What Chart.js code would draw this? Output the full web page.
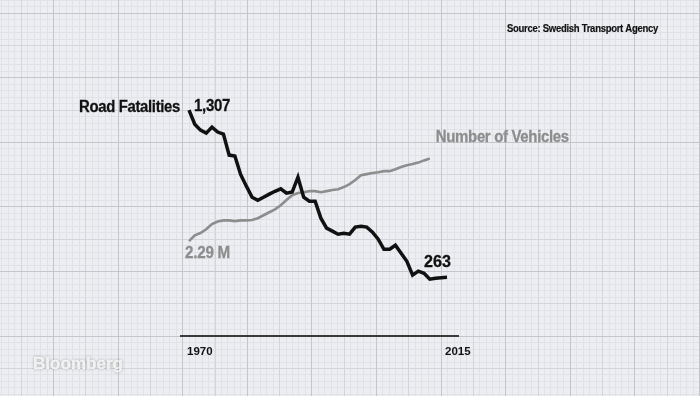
<!DOCTYPE html>
<html lang="en">
<head>
<meta charset="UTF-8">
<title>Road Fatalities vs Number of Vehicles</title>
<script src="https://cdn.jsdelivr.net/npm/chart.js"></script>
<style>
  html, body { margin: 0; padding: 0; background: #eceef2; }
  #wrap { width: 700px; height: 396px; }
</style>
</head>
<body>
<div id="wrap"><canvas id="chart" width="700" height="396"></canvas></div>
<script>
// Sweden, road deaths per year and vehicles in traffic (millions)
const years = [1970, 1971, 1972, 1973, 1974, 1975, 1976, 1977, 1978, 1979,
               1980, 1981, 1982, 1983, 1984, 1985, 1986, 1987, 1988, 1989,
               1990, 1991, 1992, 1993, 1994, 1995, 1996, 1997, 1998, 1999,
               2000, 2001, 2002, 2003, 2004, 2005, 2006, 2007, 2008, 2009,
               2010, 2011, 2012, 2013, 2014, 2015];
const fatalities = [1307, 1219, 1182, 1163, 1201, 1170, 1157, 1026, 1020, 905,
                    832, 763, 744, 763, 782, 800, 815, 788, 795, 888,
                    763, 738, 738, 632, 570, 551, 532, 538, 532, 576,
                    582, 576, 545, 501, 438, 438, 463, 413, 363, 276,
                    301, 288, 251, 257, 260, 263];
const vehicles = [2.29, 2.45, 2.51, 2.61, 2.75, 2.82, 2.85, 2.85, 2.83, 2.85,
                  2.85, 2.86, 2.91, 2.99, 3.07, 3.15, 3.26, 3.40, 3.53, 3.59,
                  3.61, 3.64, 3.64, 3.61, 3.64, 3.67, 3.69, 3.75, 3.83, 3.94,
                  4.07, 4.10, 4.13, 4.15, 4.18, 4.18, 4.23, 4.29, 4.34, 4.37,
                  4.41, 4.47, 4.52];
const tickYears = [1970, 2015];

const INK = '#111111';
const GREY = '#8d8d8d';
const FONT = '"Liberation Sans", Arial, sans-serif';

// bold text with tight tracking, fitted to the width it has in the original
function fitText(ctx, str, x, y, width, size, color, align) {
    ctx.save();
    ctx.font = 'bold ' + size + 'px ' + FONT;
    ctx.fillStyle = color;
    ctx.strokeStyle = color;
    ctx.lineWidth = size / 60;
    ctx.textBaseline = 'middle';
    ctx.textAlign = 'left';
    const natural = ctx.measureText(str).width;
    if ('letterSpacing' in ctx && str.length > 1) {
        ctx.letterSpacing = (0.4 * (width - natural) / str.length) + 'px';
    }
    const sx = width / ctx.measureText(str).width;
    ctx.translate(align === 'right' ? x - width : x, y);
    ctx.scale(sx, 1);
    ctx.fillText(str, 0, 0);
    ctx.strokeText(str, 0, 0);
    ctx.restore();
}

// graph paper behind everything
const paper = {
    id: 'paper',
    beforeDraw(chart) {
        const ctx = chart.ctx;
        const W = chart.width, H = chart.height;
        const step = 64.6, x0 = 53, y0 = 12.7;
        ctx.save();
        ctx.fillStyle = '#eceef2';
        ctx.fillRect(0, 0, W, H);
        const lines = (div, color) => {
            const s = step / div;
            ctx.strokeStyle = color;
            ctx.lineWidth = 1;
            ctx.beginPath();
            for (let i = -200; i < 200; i++) {
                const x = Math.round(x0 + i * s) + 0.5;
                if (x >= 0 && x <= W) { ctx.moveTo(x, 0); ctx.lineTo(x, H); }
                const y = Math.round(y0 + i * s) + 0.5;
                if (y >= 0 && y <= H) { ctx.moveTo(0, y); ctx.lineTo(W, y); }
            }
            ctx.stroke();
        };
        lines(10, '#e0e2e7');
        lines(2, '#d3d5da');
        lines(1, '#c4c6cb');
        ctx.restore();
    }
};

const labels = {
    id: 'labels',
    afterDatasetsDraw(chart) {
        const ctx = chart.ctx;
        const xs = chart.scales.x, y1 = chart.scales.y, y2 = chart.scales.y2;
        const fl = fatalities.length - 1, vl = vehicles.length - 1;
        const fx0 = xs.getPixelForValue(years[0]), fy0 = y1.getPixelForValue(fatalities[0]);
        const fx1 = xs.getPixelForValue(years[fl]), fy1 = y1.getPixelForValue(fatalities[fl]);
        const vx0 = xs.getPixelForValue(years[0]), vy0 = y2.getPixelForValue(vehicles[0]);
        const vx1 = xs.getPixelForValue(years[vl]), vy1 = y2.getPixelForValue(vehicles[vl]);

        fitText(ctx, 'Road Fatalities', fx0 - 9, fy0 - 2, 101, 16, INK, 'right');
        fitText(ctx, fatalities[0].toLocaleString('en-US'), fx0 + 5, fy0 - 3, 36, 16, INK);
        fitText(ctx, String(fatalities[fl]), fx1 - 23, fy1 - 15, 27, 16, INK);
        fitText(ctx, vehicles[0].toFixed(2) + ' M', vx0 - 4, vy0 + 12, 45, 16, GREY);
        fitText(ctx, 'Number of Vehicles', vx1 + 6, vy1 - 21, 133, 16, GREY);

        fitText(ctx, 'Source: Swedish Transport Agency', 507, 29, 151, 10.5, INK);

        ctx.save();
        ctx.shadowColor = 'rgba(0,0,0,0.3)';
        ctx.shadowBlur = 3;
        fitText(ctx, 'Bloomberg', 33, 364, 90, 17, 'rgba(255,255,255,0.9)');
        ctx.restore();
    }
};

const ctx = document.getElementById('chart').getContext('2d');
new Chart(ctx, {
    type: 'line',
    data: {
        datasets: [{
            label: 'Road Fatalities',
            data: fatalities.map((v, i) => ({ x: years[i], y: v })),
            yAxisID: 'y',
            borderColor: INK,
            borderWidth: 3.5,
            pointRadius: 0,
            tension: 0,
            fill: false
        }, {
            label: 'Number of Vehicles',
            data: vehicles.map((v, i) => ({ x: years[i], y: v })),
            yAxisID: 'y2',
            borderColor: GREY,
            borderWidth: 2.6,
            pointRadius: 0,
            tension: 0,
            fill: false
        }]
    },
    options: {
        responsive: false,
        animation: false,
        devicePixelRatio: 1,
        layout: { padding: { left: 181, right: 242, top: 100, bottom: 36 } },
        plugins: {
            legend: { display: false },
            tooltip: { enabled: false }
        },
        scales: {
            x: {
                type: 'linear',
                min: 1968.6,
                max: 2016.92,
                grid: { display: false },
                border: { display: true, color: '#3a3a3a', width: 2 },
                afterBuildTicks: axis => { axis.ticks = tickYears.map(v => ({ value: v })); },
                ticks: {
                    autoSkip: false,
                    maxRotation: 0,
                    align: 'start',
                    labelOffset: -2,
                    padding: 1,
                    color: INK,
                    font: { family: FONT, size: 11.5, weight: 'bold' },
                    callback: v => String(v)
                }
            },
            y: { display: false, min: -105, max: 1370 },
            y2: { display: false, min: -0.275, max: 6.1 }
        }
    },
    plugins: [paper, labels]
});
</script>
</body>
</html>
